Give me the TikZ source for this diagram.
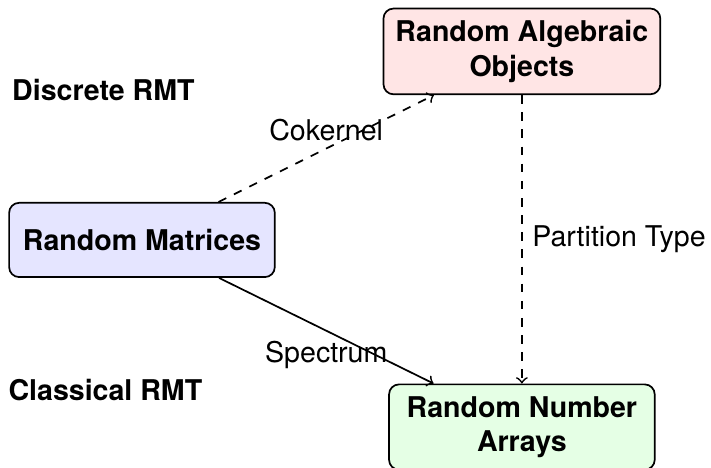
\documentclass[tikz,border=0pt]{standalone}
\usepackage{fontspec}
\setmainfont{TeX Gyre Heros}
\usetikzlibrary{positioning}

\begin{document}
\begin{tikzpicture}[
		on grid,
		semithick,
		n/.style={draw, rounded corners=3.5pt, align=center, font=\bfseries, minimum width=93pt, minimum height=26pt, inner sep=4.2pt},
		a/.style={->},
		t/.style={font=\bfseries},
	]
		\useasboundingbox (-49.7pt,-79.5pt) rectangle (199.2pt,84pt);

		\node[n, fill=blue!10] (RM) {Random Matrices};
		\node[n, fill=red!10, above right=66pt and 133pt of RM] (RAO) {Random Algebraic\\Objects};
		\node[n, fill=green!10, below right=65.5pt and 133pt of RM] (RNA) {Random Number\\Arrays};
		\node[t, above left=52.5pt and 13.5pt of RM] (D) {Discrete RMT};
		\node[t, below left=52.5pt and 12.8pt of RM] (C) {Classical RMT};

		\draw[a, dashed] (RM) -- node[above=-1pt] {Cokernel} (RAO);
		\draw[a] (RM) -- node[below] {Spectrum} (RNA);
		\draw[a, dashed] (RAO) -- node[right] {Partition Type} (RNA);
	\end{tikzpicture}
\end{document}
